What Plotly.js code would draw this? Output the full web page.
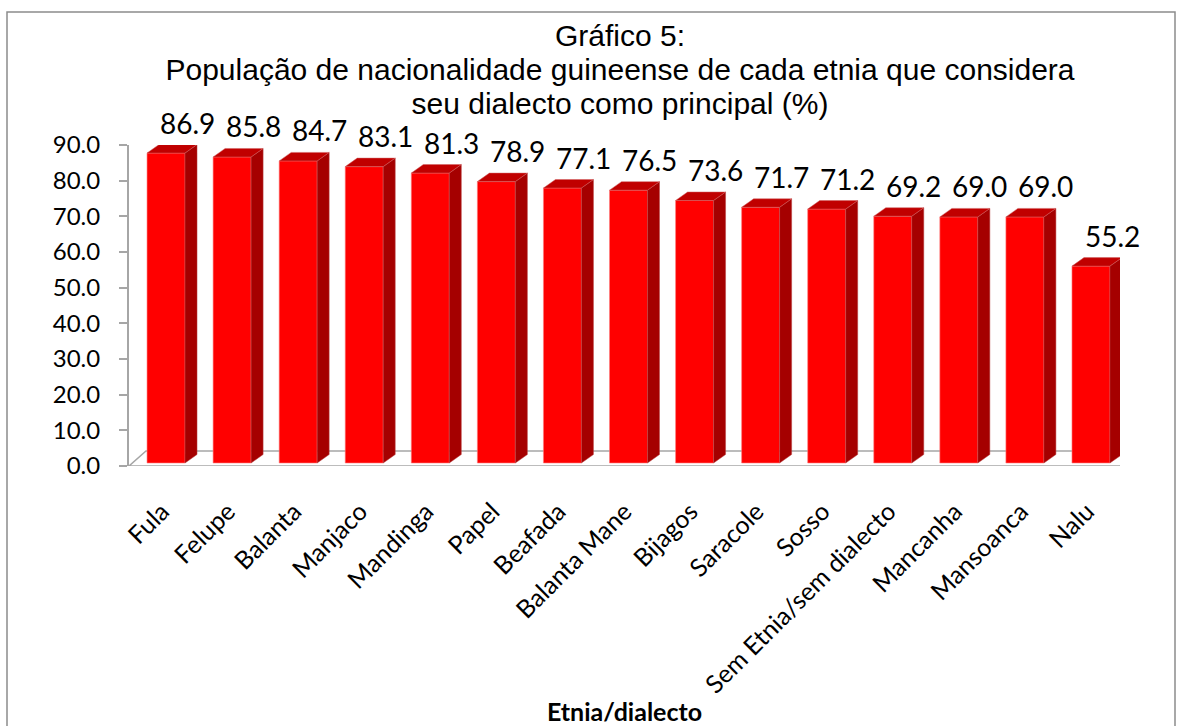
<!DOCTYPE html>
<html>
<head>
<meta charset="utf-8">
<script src="https://cdn.plot.ly/plotly-3.0.1.min.js"></script>
<style>html,body{margin:0;padding:0;background:#fff;}#chart{width:1183px;height:726px;}</style>
</head>
<body>
<div id="chart"></div>
<script>
const categories = ["Fula","Felupe","Balanta","Manjaco","Mandinga","Papel","Beafada","Balanta Mane","Bijagos","Saracole","Sosso","Sem Etnia/sem dialecto","Mancanha","Mansoanca","Nalu"];
const values = [86.9, 85.8, 84.7, 83.1, 81.3, 78.9, 77.1, 76.5, 73.6, 71.7, 71.2, 69.2, 69.0, 69.0, 55.2];
const yTickVals = [0,10,20,30,40,50,60,70,80,90];

const W = 1183, H = 726;
const M = {l:129, r:63, t:145, b:260};
const plotW = W - M.l - M.r, plotH = H - M.t - M.b;
const xRange = [-0.5, categories.length - 0.5];
const yRange = [0, 90];
const ux = plotW / (xRange[1] - xRange[0]);   // px per x unit
const uy = plotH / (yRange[1] - yRange[0]);   // px per y unit

// 3D styling (in pixels, converted to data units)
const base = 3 / uy;           // bars sit slightly inside the floor
const barShift = 4 / ux;       // front face shifted by depth
const barW = 38 / ux;
const depX = 12 / ux, depY = 8.5 / uy;
const floorX = 17 / ux, floorY = 15 / uy;

const xs = categories.map((c, i) => i);
const shapes = [];
// floor
shapes.push({type:'path', xref:'x', yref:'y', layer:'below',
  path:`M ${xRange[0]},0 L ${xRange[1]},0 L ${xRange[1]+floorX*1.25},${floorY} L ${xRange[0]+floorX},${floorY} Z`,
  fillcolor:'#ffffff', line:{color:'#a6a6a6', width:1.5}});
// side and top faces of each bar
values.forEach((v, i) => {
  const xL = i - barW/2 + barShift, xR = xL + barW;
  const yB = base, yT = v + base;
  shapes.push({type:'path', xref:'x', yref:'y', layer:'above',
    path:`M ${xR},${yB} L ${xR+depX},${yB+depY} L ${xR+depX},${yT+depY} L ${xR},${yT} Z`,
    fillcolor:'#a50000', line:{color:'#b84040', width:0.5}});
  shapes.push({type:'path', xref:'x', yref:'y', layer:'above',
    path:`M ${xL},${yT} L ${xR},${yT} L ${xR+depX},${yT+depY} L ${xL+depX},${yT+depY} Z`,
    fillcolor:'#c00000', line:{color:'#d06060', width:0.5}});
});
// outer chart border
shapes.push({type:'rect', xref:'paper', yref:'paper',
  x0:(7 - M.l)/plotW, x1:(1175 - M.l)/plotW,
  y0:-(H + 10 - (M.t + plotH))/plotH, y1:(M.t + plotH - 12)/plotH,
  line:{color:'#8c8c8c', width:1.5}, fillcolor:'rgba(0,0,0,0)', layer:'below'});

const annotations = values.map((v, i) => ({
  x: i + barShift + (barW + depX)/2 - 0.06, y: v,
  xref:'x', yref:'y', text: v.toFixed(1), showarrow:false,
  yanchor:'bottom', xanchor:'center', yshift: (base + depY) * uy + 3,
  font:{family:'Lato, Carlito, sans-serif', size:28, color:'#000'}
}));

const trace = {
  type:'bar', x: xs, y: values, base: base,
  width: barW, offset: -barW/2 + barShift,
  marker:{color:'#ff0000', line:{color:'#ff8080', width:0.6}},
  hovertemplate:'%{customdata}: %{y:.1f}<extra></extra>',
  customdata: categories
};

const span = s => `<span style="font-size:30px">${s}</span>`;
const layout = {
  width: W, height: H,
  margin: M,
  paper_bgcolor:'#ffffff', plot_bgcolor:'rgba(0,0,0,0)',
  showlegend:false,
  title:{
    text: span('Gráfico 5:') + '<br>' + span('População de nacionalidade guineense de cada etnia que considera') + '<br>' + span('seu dialecto como principal (%)'),
    font:{family:'Liberation Sans, Arial, sans-serif', size:26, color:'#000'},
    x: 620/W, xanchor:'center', xref:'container',
    y: 1 - 46/H, yanchor:'top', yref:'container'
  },
  xaxis:{
    range: xRange, tickvals: xs, ticktext: categories,
    tickangle: -45, showline:false, showgrid:false, zeroline:false, ticks:'',
    ticklabelstandoff: 25, ticklabelshift: 0,
    tickfont:{family:'Lato, Carlito, sans-serif', size:25, color:'#000'},
    title:{text:'<b>Etnia/dialecto</b>', standoff: 8,
      font:{family:'Lato, Carlito, sans-serif', size:25, color:'#000'}},
    automargin:false, fixedrange:true
  },
  yaxis:{
    range: yRange, tickvals: yTickVals, tickformat:'.1f',
    showline:true, linecolor:'#a6a6a6', linewidth:2,
    ticks:'outside', ticklen:8, tickcolor:'#a6a6a6', tickwidth:2,
    ticklabelstandoff: 14,
    showgrid:false, zeroline:false,
    tickfont:{family:'Lato, Carlito, sans-serif', size:24, color:'#000'},
    automargin:false, fixedrange:true
  },
  shapes: shapes,
  annotations: annotations,
  bargap: 0
};

Plotly.newPlot('chart', [trace], layout, {displayModeBar:false, staticPlot:true});
</script>
</body>
</html>
